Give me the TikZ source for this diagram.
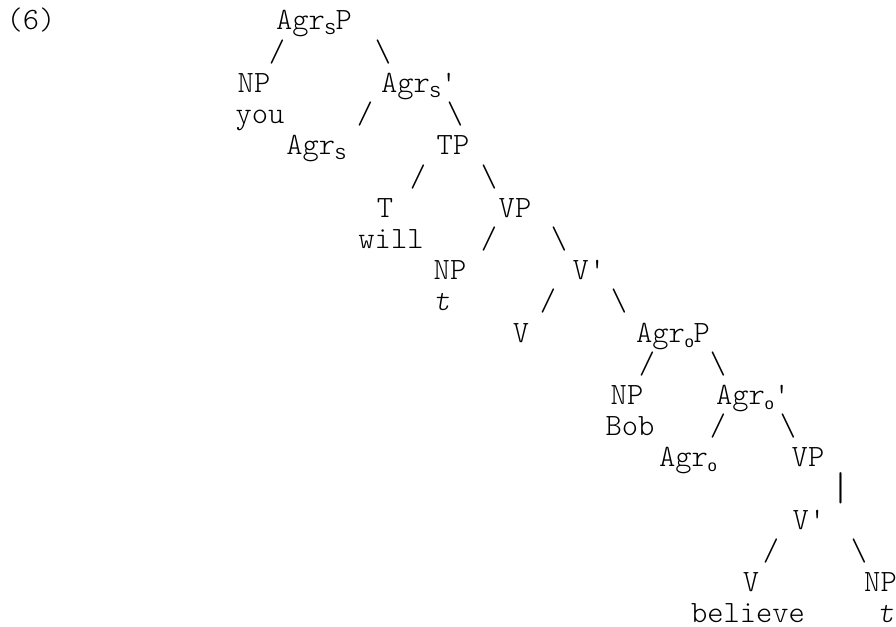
\documentclass[tikz,border=0pt]{standalone}
\usepackage{fontspec}
\setsansfont{Liberation Sans}
\newfontfamily\treefont{lmmonolt10-regular.otf}[ItalicFont=lmmonolt10-oblique.otf]
\usepackage{tikz}
\usetikzlibrary{positioning}

\newcommand{\lo}[1]{\raisebox{-5pt}{\fontsize{16}{16}\selectfont\sffamily #1}}

\begin{document}
\begin{tikzpicture}[x=1pt,y=-1pt,
    every node/.style={anchor=base,inner sep=0pt,
      font=\treefont\fontsize{31}{33}\selectfont}]
  \useasboundingbox (0,0) rectangle (896,626);

  \node(ex) at (31,30) {(6)};

  % top: Agr_S P
  \node(agrsp) at (314,30) {Agr\lo{S}P};
  \node(e1l) at (277,61.2) {/};
  \node(e1r) at (383,61.2) {\textbackslash};
  \node(np1) at (254,92.4) {NP};
  \node(you) at (260,123.6) {you};
  \node(agrsb) at (419,92.4) {Agr\lo{S}'};
  \node(e2l) at (365,123.6) {/};
  \node(e2r) at (455,123.6) {\textbackslash};
  \node(agrs) at (316,154.8) {Agr\lo{S}};

  % T and VP
  \node(tp) at (453,154.8) {TP};
  \node(e3l) at (418,186) {/};
  \node(e3r) at (489,186) {\textbackslash};
  \node(t) at (385,217.2) {T};
  \node(will) at (391,248.4) {will};
  \node(vp1) at (515,217.2) {VP};
  \node(e4l) at (489,248.4) {/};
  \node(e4r) at (559,248.4) {\textbackslash};
  \node(np2) at (450,279.6) {NP};
  \node(tr1) at (442,310.8) {\textit{t}};
  \node(vb1) at (589,279.6) {V'};
  \node(e5l) at (548,310.8) {/};
  \node(e5r) at (619,310.8) {\textbackslash};
  \node(v1) at (521,342) {V};

  % Agr_O P
  \node(agrop) at (673,342) {Agr\lo{o}P};
  \node(e6l) at (647,373.2) {/};
  \node(e6r) at (718,373.2) {\textbackslash};
  \node(np3) at (627,404.4) {NP};
  \node(bob) at (630,435.6) {Bob};
  \node(agrob) at (753,404.4) {Agr\lo{o}'};
  \node(e7l) at (718,435.6) {/};
  \node(e7r) at (788,435.6) {\textbackslash};
  \node(agro) at (688,466.8) {Agr\lo{o}};

  % lower VP
  \node(vp2) at (808,466.8) {VP};
  \node(e8)[font=\treefont\fontsize{40}{40}\selectfont] at (841,500) {|};
  \node(vb2) at (809,529.2) {V'};
  \node(e9l) at (771,560.4) {/};
  \node(e9r) at (859,560.4) {\textbackslash};
  \node(v2) at (751,591.6) {V};
  \node(believe) at (748,622) {believe};
  \node(np4) at (880.5,591.6) {NP};
  \node(tr2) at (886,622) {\textit{t}};
\end{tikzpicture}
\end{document}
